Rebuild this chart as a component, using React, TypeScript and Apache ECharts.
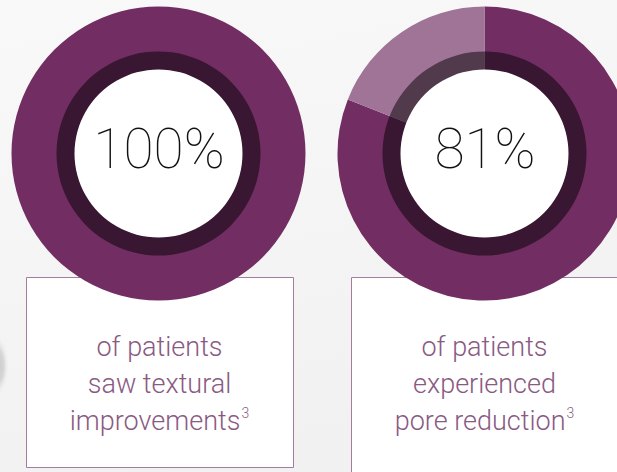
import React, { useEffect, useRef } from "react";
import * as echarts from "echarts";

const leftValues = [100];
const rightValues = [81, 19];
const leftLabel = "100%";
const rightLabel = "81%";
const leftCaption = ["of patients", "saw textural", "improvements"];
const rightCaption = ["of patients", "experienced", "pore reduction"];
const footnote = "3";

const PURPLE = "#722d62";
const LIGHT = "#a07497";
const TEXT = "#8a5a82";
const BORDER = "#a47d9e";
const CAP_FONT = "Roboto, 'Liberation Sans', sans-serif";

function donut(id: string, center: [number, number], values: number[]) {
  const colors = [PURPLE, LIGHT];
  return [
    {
      type: "pie",
      id: id + "-outer",
      center,
      radius: [83, 147],
      startAngle: 90,
      silent: true,
      label: { show: false },
      labelLine: { show: false },
      z: 2,
      data: values.map((v, i) => ({ value: v, itemStyle: { color: colors[i] } })),
    },
    {
      type: "pie",
      id: id + "-shade",
      center,
      radius: [83, 102],
      startAngle: 90,
      silent: true,
      label: { show: false },
      labelLine: { show: false },
      z: 3,
      data: [{ value: 1, itemStyle: { color: "rgba(0,0,0,0.5)" } }],
    },
    {
      type: "pie",
      id: id + "-inner",
      center,
      radius: [0, 84],
      silent: true,
      z: 4,
      label: { show: false },
      labelLine: { show: false },
      data: [{ value: 1, itemStyle: { color: "#ffffff" } }],
    },
  ];
}

function centerText(cx: number, cy: number, label: string) {
  return {
    type: "text",
    x: cx,
    y: cy,
    z: 20,
    zlevel: 0,
    silent: true,
    style: {
      text: label,
      align: "center",
      verticalAlign: "middle",
      fill: "#111111",
      fontFamily: "Roboto, 'Noto Sans', sans-serif",
      fontWeight: 100,
      fontSize: 55,
    },
  };
}

function captionBox(x: number, y: number, w: number, h: number, lines: string[]) {
  const cx = x + w / 2;
  const text = lines.slice(0, 2).join("\n") + "\n" + lines[2] + "{sup|" + footnote + "}";
  return [
    {
      type: "rect",
      shape: { x: x + 0.5, y: y + 0.5, width: w, height: h },
      style: { fill: "#ffffff", stroke: BORDER, lineWidth: 1 },
      z: 0,
      silent: true,
    },
    {
      type: "text",
      x: cx,
      y: 328,
      silent: true,
      z: 1,
      style: {
        text,
        align: "center",
        verticalAlign: "top",
        fill: TEXT,
        fontFamily: CAP_FONT,
        fontWeight: 300,
        fontSize: 27,
        lineHeight: 37,
        rich: {
          sup: {
            fontSize: 14,
            fontFamily: CAP_FONT,
            fontWeight: 300,
            fill: TEXT,
            verticalAlign: "top",
            padding: [4, 0, 0, 1],
            lineHeight: 37,
          },
        },
      },
    },
  ];
}

export default function App() {
  const ref = useRef<HTMLDivElement>(null);
  useEffect(() => {
    if (!ref.current) return;
    const chart = echarts.init(ref.current, undefined, { renderer: "svg" });
    chart.setOption({
      animation: false,
      backgroundColor: {
        type: "linear",
        x: 0,
        y: 0,
        x2: 0.3,
        y2: 1,
        colorStops: [
          { offset: 0, color: "#f9f9f9" },
          { offset: 1, color: "#f1f1f1" },
        ],
      },
      graphic: [
        {
          type: "ellipse",
          shape: { cx: -4, cy: 366, rx: 13, ry: 30 },
          style: {
            fill: {
              type: "radial",
              x: 0.5,
              y: 0.5,
              r: 0.5,
              colorStops: [
                { offset: 0, color: "#c6c6c6" },
                { offset: 0.6, color: "#d6d6d6" },
                { offset: 1, color: "rgba(240,240,240,0)" },
              ],
            },
          },
          silent: true,
          z: 0,
        },
        ...captionBox(26, 277, 267, 190, leftCaption),
        ...captionBox(351, 277, 267, 210, rightCaption),
        centerText(159, 149, leftLabel),
        centerText(485, 149, rightLabel),
      ],
      series: [
        ...donut("left", [158.5, 153.5], leftValues),
        ...donut("right", [484.5, 153.5], rightValues),
      ],
    });
    return () => chart.dispose();
  }, []);
  return (
    <div
      ref={ref}
      style={{ position: "fixed", left: 0, top: 0, width: 617, height: 472 }}
    />
  );
}
